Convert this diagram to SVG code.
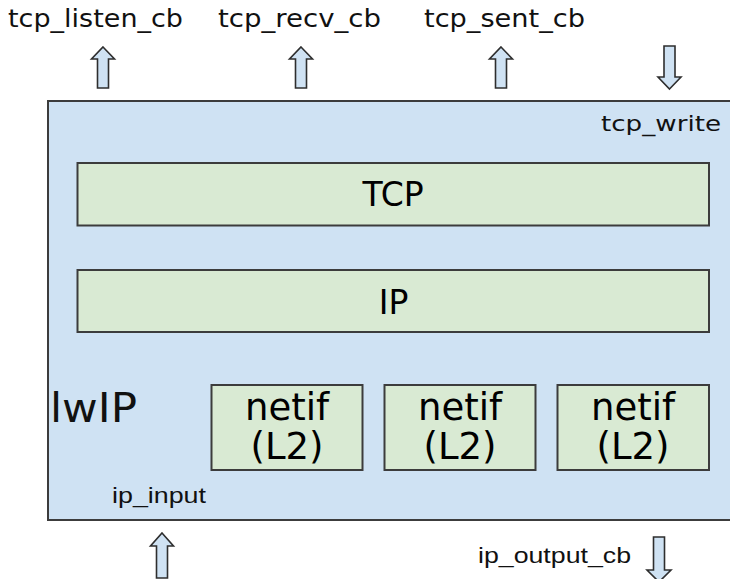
<svg xmlns="http://www.w3.org/2000/svg" width="730" height="579" viewBox="0 0 730 579">
<defs>
<style>
.main{fill:#cfe2f3;stroke:#3c3c3c;stroke-width:2}
.layer{fill:#d9ead3;stroke:#3c3c3c;stroke-width:2}
.arrow{fill:#cfe2f3;stroke:#2e2e2e;stroke-width:1.6;stroke-linejoin:miter}
.lbl{font-family:"DejaVu Sans",Verdana,sans-serif;fill:#111}
.alb{font-family:"Liberation Sans",Arial,sans-serif;fill:#111}
.big{font-family:"DejaVu Sans",Verdana,sans-serif;fill:#000;text-anchor:middle}
</style>
</defs>
<rect width="730" height="579" fill="#ffffff"/>
<g id="lwip">
<rect class="main" x="48" y="101" width="700" height="419"/>
<text class="lbl" x="50" y="422" font-size="41" textLength="87" lengthAdjust="spacingAndGlyphs">lwIP</text>
</g>
<g id="tcp">
<rect class="layer" x="77.5" y="163" width="631.5" height="62.5"/>
<text class="big" x="393" y="206" font-size="33">TCP</text>
</g>
<g id="ip">
<rect class="layer" x="77.5" y="270" width="631.5" height="62"/>
<text class="big" x="393.5" y="313.5" font-size="33">IP</text>
</g>
<g id="netif1">
<rect class="layer" x="211.5" y="385" width="151" height="85"/>
<text class="big" x="287" y="420" font-size="37">netif</text>
<text class="big" x="287" y="459" font-size="37">(L2)</text>
</g>
<g id="netif2">
<rect class="layer" x="384.5" y="385" width="151" height="85"/>
<text class="big" x="460" y="420" font-size="37">netif</text>
<text class="big" x="460" y="459" font-size="37">(L2)</text>
</g>
<g id="netif3">
<rect class="layer" x="557.5" y="385" width="151.5" height="85"/>
<text class="big" x="633" y="420" font-size="37">netif</text>
<text class="big" x="633" y="459" font-size="37">(L2)</text>
</g>
<g id="labels">
<text class="lbl" x="8" y="27" font-size="24" textLength="175" lengthAdjust="spacingAndGlyphs">tcp_listen_cb</text>
<text class="lbl" x="218" y="27" font-size="24" textLength="163" lengthAdjust="spacingAndGlyphs">tcp_recv_cb</text>
<text class="lbl" x="424" y="27" font-size="24" textLength="161" lengthAdjust="spacingAndGlyphs">tcp_sent_cb</text>
<text class="lbl" x="601" y="131" font-size="22" textLength="120" lengthAdjust="spacingAndGlyphs">tcp_write</text>
<text class="alb" x="112" y="503" font-size="22" textLength="94" lengthAdjust="spacingAndGlyphs">ip_input</text>
<text class="alb" x="478" y="563" font-size="22" textLength="153" lengthAdjust="spacingAndGlyphs">ip_output_cb</text>
</g>
<g id="connectors">
<path class="arrow" d="M103 47 L114.5 59 L108.5 59 L108.5 88 L97.5 88 L97.5 59 L91.5 59 Z"/>
<path class="arrow" d="M301 47 L312.5 59 L306.5 59 L306.5 88 L295.5 88 L295.5 59 L289.5 59 Z"/>
<path class="arrow" d="M501 47 L512.5 59 L506.5 59 L506.5 88 L495.5 88 L495.5 59 L489.5 59 Z"/>
<path class="arrow" d="M669.5 89 L681 77 L675 77 L675 46 L664 46 L664 77 L658 77 Z"/>
<path class="arrow" d="M162 533 L173.5 546 L167.5 546 L167.5 578 L156.5 578 L156.5 546 L150.5 546 Z"/>
<path class="arrow" d="M659 582 L671 570 L664.5 570 L664.5 537 L653.5 537 L653.5 570 L647 570 Z"/>
</g>
</svg>
